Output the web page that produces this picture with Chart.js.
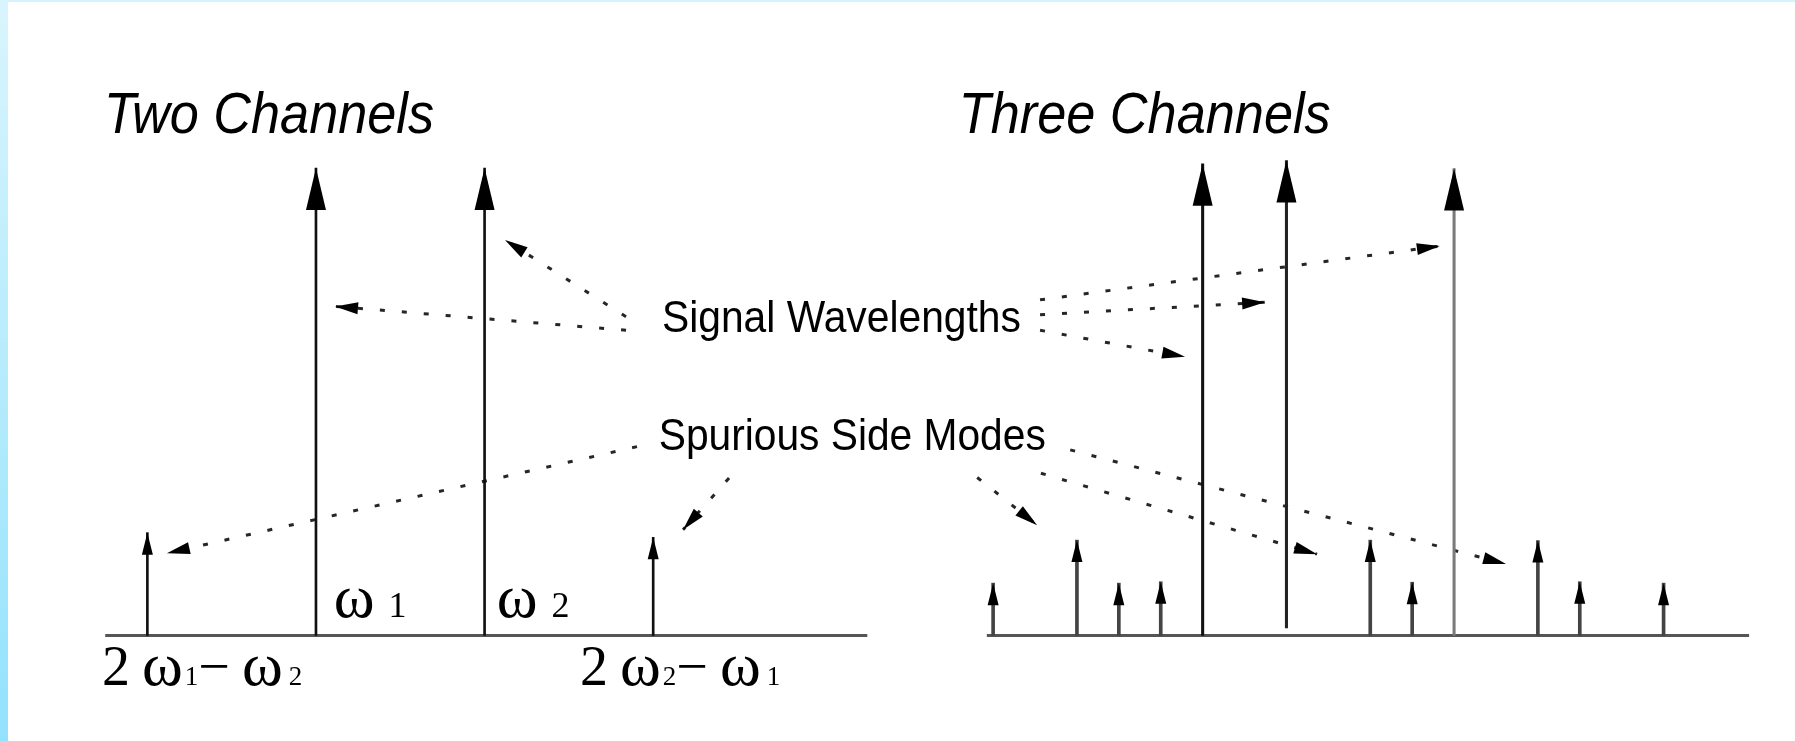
<!DOCTYPE html>
<html lang="en">
<head>
<meta charset="utf-8">
<title>Two Channels / Three Channels</title>
<style>
  html, body { margin: 0; padding: 0; background: #fff; overflow: hidden; }
  #marco { position: relative; width: 1795px; height: 741px; background: #fff; }
  #borde-sup { position: absolute; left: 0; top: 0; width: 1795px; height: 2px; background: #d4f3fc; }
  #borde-izq { position: absolute; left: 0; top: 0; width: 8px; height: 741px; background: linear-gradient(#d9f5fc, #93e2fd); }
  #contenedor { position: absolute; left: 0; top: 0; width: 1795px; height: 741px; }
</style>
<script src="https://cdn.jsdelivr.net/npm/chart.js@4.4.1/dist/chart.umd.min.js"></script>
</head>
<body>
<div id="marco">
  <div id="borde-sup"></div>
  <div id="borde-izq"></div>
  <div id="contenedor"><canvas id="chart-espectro"></canvas></div>
</div>
<script>
'use strict';

// ====================
//  Datos
// ====================

// Dos canales: 2ω1−ω2, ω1, ω2, 2ω2−ω1 (unidad = separación entre canales)
const twoPos = [-1, 0, 1, 2];
const twoTop = [2.2, 10, 10, 2.1];

// Tres canales (unidad = separación mínima de la rejilla)
const threePos = [-5, -3, -2, -1, 0, 2, 4, 5, 6, 8, 9, 11];
const threeTop = [1.12, 2.04, 1.12, 1.15, 10.09, 10.16, 2.04, 1.14, 9.99, 2.03, 1.15, 1.12];
const threeBottom = [0, 0, 0, 0, 0, 0.16, 0, 0, 0, 0, 0, 0];

// Ejes de frecuencia de cada panel
const twoAxisRange = [-1.25, 3.27];
const threeAxisRange = [-5.15, 13.04];

const panelTitles = ['Two Channels', 'Three Channels'];
const noteLabels = ['Signal Wavelengths', 'Spurious Side Modes'];

// Flechas punteadas de las anotaciones (desde el texto hasta la punta)
const pointerAxis = ['xL', 'xL', 'xR', 'xR', 'xR', 'xL', 'xL', 'xR', 'xR', 'xR'];
const pointerFromX = [1.839, 1.839, -3.88, -3.88, -3.88, 1.904, 2.45, -5.38, -3.86, -3.16];
const pointerFromY = [6.53, 6.82, 7.18, 6.86, 6.53, 4.04, 3.37, 3.38, 3.47, 3.97];
const pointerToX = [0.113, 1.121, 5.66, 1.49, -0.42, -0.884, 2.177, -3.95, 2.73, 7.24];
const pointerToY = [7.04, 8.46, 8.33, 7.13, 5.96, 1.76, 2.26, 2.36, 1.74, 1.53];

// ====================
//  Series para Chart.js
// ====================

function construirBarras(pos, bottom, top, alto) {
  const res = [];
  pos.forEach(function (x, i) {
    const esAlto = top[i] > 5;
    if (esAlto !== alto) return;
    res.push({ x: x, y: [bottom ? bottom[i] : 0, top[i]] });
  });
  return res;
}

function construirPunteadas() {
  return pointerAxis.map(function (eje, i) {
    return {
      type: 'line',
      xAxisID: eje,
      yAxisID: 'y',
      data: [
        { x: pointerFromX[i], y: pointerFromY[i] },
        { x: pointerToX[i], y: pointerToY[i] }
      ],
      borderColor: '#262626',
      borderWidth: 3,
      borderDash: [5, 17],
      pointRadius: 0,
      fill: false,
      tension: 0,
      flecha: true
    };
  });
}

const datasets = [
  {
    xAxisID: 'xL', yAxisID: 'y',
    data: construirBarras(twoPos, null, twoTop, true),
    backgroundColor: '#111', barThickness: 2, grouped: false,
    punta: { largo: 42, ancho: 20 }
  },
  {
    xAxisID: 'xL', yAxisID: 'y',
    data: construirBarras(twoPos, null, twoTop, false),
    backgroundColor: '#111', barThickness: 2, grouped: false,
    punta: { largo: 22, ancho: 11 }
  },
  {
    xAxisID: 'xR', yAxisID: 'y',
    data: construirBarras(threePos, threeBottom, threeTop, true),
    backgroundColor: ['#111', '#222', '#7a7a7a'], barThickness: 2.4, grouped: false,
    punta: { largo: 42, ancho: 20 }
  },
  {
    xAxisID: 'xR', yAxisID: 'y',
    data: construirBarras(threePos, threeBottom, threeTop, false),
    backgroundColor: '#444', barThickness: 3, grouped: false,
    punta: { largo: 22, ancho: 11 }
  }
].concat(construirPunteadas(), [
  {
    type: 'line', xAxisID: 'xL', yAxisID: 'y',
    data: [{ x: twoAxisRange[0], y: 0 }, { x: twoAxisRange[1], y: 0 }],
    borderColor: '#555', borderWidth: 3, pointRadius: 0, fill: false
  },
  {
    type: 'line', xAxisID: 'xR', yAxisID: 'y',
    data: [{ x: threeAxisRange[0], y: 0 }, { x: threeAxisRange[1], y: 0 }],
    borderColor: '#555', borderWidth: 3, pointRadius: 0, fill: false
  }
]);

// ====================
//  Plugins de dibujo
// ====================

function dibujarTriangulo(ctx, x, y, ang, largo, ancho) {
  ctx.save();
  ctx.translate(x, y);
  ctx.rotate(ang);
  ctx.beginPath();
  ctx.moveTo(0, 0);
  ctx.lineTo(-largo, ancho / 2);
  ctx.lineTo(-largo, -ancho / 2);
  ctx.closePath();
  ctx.fill();
  ctx.restore();
}

const pluginPuntas = {
  id: 'puntas',
  afterDatasetsDraw: function (chart) {
    const ctx = chart.ctx;
    ctx.save();
    ctx.fillStyle = '#000';
    chart.data.datasets.forEach(function (ds, i) {
      const meta = chart.getDatasetMeta(i);
      if (ds.punta) {
        meta.data.forEach(function (barra) {
          dibujarTriangulo(ctx, barra.x, barra.y, -Math.PI / 2, ds.punta.largo, ds.punta.ancho);
        });
      } else if (ds.flecha && meta.data.length > 1) {
        const a = meta.data[0];
        const b = meta.data[meta.data.length - 1];
        const ang = Math.atan2(b.y - a.y, b.x - a.x);
        dibujarTriangulo(ctx, b.x, b.y, ang, 23, 12);
      }
    });
    ctx.restore();
  }
};

function textoAjustado(ctx, texto, x, y, fuente, ancho) {
  ctx.save();
  ctx.font = fuente;
  const w = ctx.measureText(texto).width;
  const k = ancho ? ancho / w : 1;
  ctx.translate(x, y);
  ctx.scale(k, 1);
  ctx.fillText(texto, 0, 0);
  ctx.restore();
}

function textoPorTramos(ctx, tramos, x, y) {
  let cx = x;
  tramos.forEach(function (t) {
    ctx.font = t.size + 'px "Liberation Serif", "Times New Roman", serif';
    cx += t.gap || 0;
    ctx.fillText(t.t, cx, y);
    cx += ctx.measureText(t.t).width;
  });
}

const pluginTextos = {
  id: 'textos',
  afterDraw: function (chart) {
    const ctx = chart.ctx;
    const xL = chart.scales.xL;
    const xR = chart.scales.xR;
    const y = chart.scales.y;
    const sans = '"Liberation Sans", Arial, Helvetica, sans-serif';

    ctx.save();
    ctx.fillStyle = '#000';
    ctx.textBaseline = 'alphabetic';
    ctx.textAlign = 'left';

    // Títulos de panel
    textoAjustado(ctx, panelTitles[0], xL.getPixelForValue(-1.257), y.getPixelForValue(10.75), 'italic 58px ' + sans, 330);
    textoAjustado(ctx, panelTitles[1], xR.getPixelForValue(-5.82), y.getPixelForValue(10.75), 'italic 58px ' + sans, 372);

    // Anotaciones
    textoAjustado(ctx, noteLabels[0], xL.getPixelForValue(2.052), y.getPixelForValue(6.49), '44px ' + sans, 359);
    textoAjustado(ctx, noteLabels[1], xL.getPixelForValue(2.033), y.getPixelForValue(3.968), '44px ' + sans, 387);

    // Etiquetas ω
    const yOmega = y.getPixelForValue(0.40);
    textoPorTramos(ctx, [{ t: 'ω', size: 62 }, { t: '1', size: 36, gap: 14 }], xL.getPixelForValue(0.105), yOmega);
    textoPorTramos(ctx, [{ t: 'ω', size: 62 }, { t: '2', size: 36, gap: 14 }], xL.getPixelForValue(1.072), yOmega);

    const yMezcla = y.getPixelForValue(-1.059);
    textoPorTramos(ctx, [
      { t: '2', size: 56 }, { t: 'ω', size: 62, gap: 12 }, { t: '1', size: 27, gap: 2 },
      { t: '−', size: 56 }, { t: 'ω', size: 62, gap: 12 }, { t: '2', size: 27, gap: 6 }
    ], xL.getPixelForValue(-1.269), yMezcla);
    textoPorTramos(ctx, [
      { t: '2', size: 56 }, { t: 'ω', size: 62, gap: 12 }, { t: '2', size: 27, gap: 2 },
      { t: '−', size: 56 }, { t: 'ω', size: 62, gap: 12 }, { t: '1', size: 27, gap: 6 }
    ], xL.getPixelForValue(1.566), yMezcla);

    ctx.restore();
  }
};

// ====================
//  Gráfico
// ====================

const canvas = document.getElementById('chart-espectro');
new Chart(canvas.getContext('2d'), {
  type: 'bar',
  data: { datasets: datasets },
  options: {
    responsive: true,
    maintainAspectRatio: false,
    animation: false,
    events: [],
    layout: { padding: 0 },
    plugins: {
      legend: { display: false },
      tooltip: { enabled: false },
      title: { display: false }
    },
    scales: {
      xL: { type: 'linear', display: false, offset: false, min: -1.874, max: 8.772 },
      xR: { type: 'linear', display: false, offset: false, min: -28.70, max: 14.136 },
      y: { type: 'linear', display: false, min: -2.257, max: 13.594 }
    }
  },
  plugins: [pluginPuntas, pluginTextos]
});
</script>
</body>
</html>
